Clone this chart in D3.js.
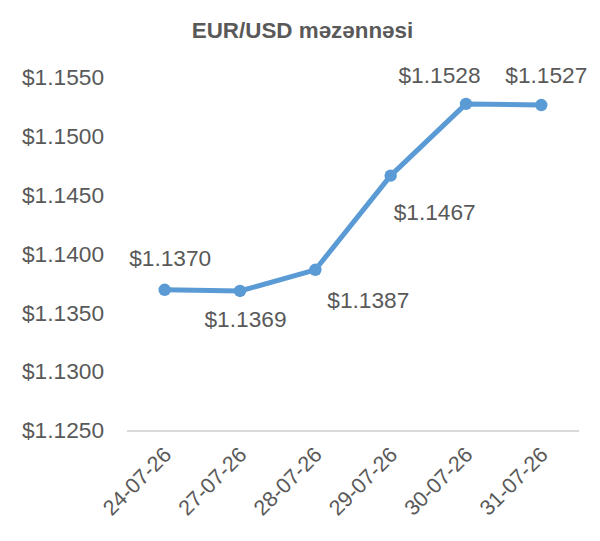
<!DOCTYPE html>
<html><head><meta charset="utf-8">
<script src="https://cdn.jsdelivr.net/npm/d3@7"></script>
<style>body{margin:0;background:#fff;}svg{display:block;font-family:"Liberation Sans",Arial,sans-serif;}</style>
</head><body>
<svg id="c" width="600" height="541"></svg>
<script>
const categories = ["24-07-26","27-07-26","28-07-26","29-07-26","30-07-26","31-07-26"];
const values = [1.1370,1.1369,1.1387,1.1467,1.1528,1.1527];
const yTicks = [1.1250,1.1300,1.1350,1.1400,1.1450,1.1500,1.1550];
const title = "EUR/USD məzənnəsi";

// label placement (offsets from each marker, in px)
const labelOffsets = [[5.5,-24],[5.5,36],[53,38],[44,44],[-26.5,-21],[5,-22]];

const svg = d3.select("#c");
const gray = "#595959";
const x = d3.scaleBand().domain(categories).range([127,579]);
const y = d3.scaleLinear().domain([1.125,1.155]).range([431,78]);
const fmt = v => "$" + v.toFixed(4);

svg.append("text").attr("x",302.5).attr("y",38).attr("text-anchor","middle")
  .attr("font-weight","bold").attr("font-size",22.4).attr("fill",gray).text(title);

// y axis labels
svg.append("g").selectAll("text").data(yTicks).join("text")
  .attr("x",104).attr("y",d=>y(d)).attr("dy","0.32em").attr("text-anchor","end")
  .attr("font-size",22.7).attr("fill",gray).text(fmt);

// x axis line
svg.append("line").attr("x1",127).attr("x2",579).attr("y1",y(1.125)).attr("y2",y(1.125))
  .attr("stroke","#d9d9d9").attr("stroke-width",2);

// x labels
svg.append("g").selectAll("text").data(categories).join("text")
  .attr("transform",d=>`translate(${x(d)+x.bandwidth()/2+8},${456}) rotate(-45)`)
  .attr("text-anchor","end").attr("font-size",21.5).attr("fill",gray).text(d=>d);

const cx = (d,i)=>x(categories[i])+x.bandwidth()/2;
const line = d3.line().x((d,i)=>cx(d,i)).y(d=>y(d));
svg.append("path").datum(values).attr("d",line).attr("fill","none")
  .attr("stroke","#5B9BD5").attr("stroke-width",5).attr("stroke-linejoin","round");
svg.append("g").selectAll("circle").data(values).join("circle")
  .attr("cx",cx).attr("cy",d=>y(d)).attr("r",6.2).attr("fill","#5B9BD5");

svg.append("g").selectAll("text").data(values).join("text")
  .attr("x",(d,i)=>cx(d,i)+labelOffsets[i][0]).attr("y",(d,i)=>y(d)+labelOffsets[i][1])
  .attr("text-anchor","middle").attr("font-size",22.7).attr("fill",gray).text(fmt);
</script>
</body></html>
